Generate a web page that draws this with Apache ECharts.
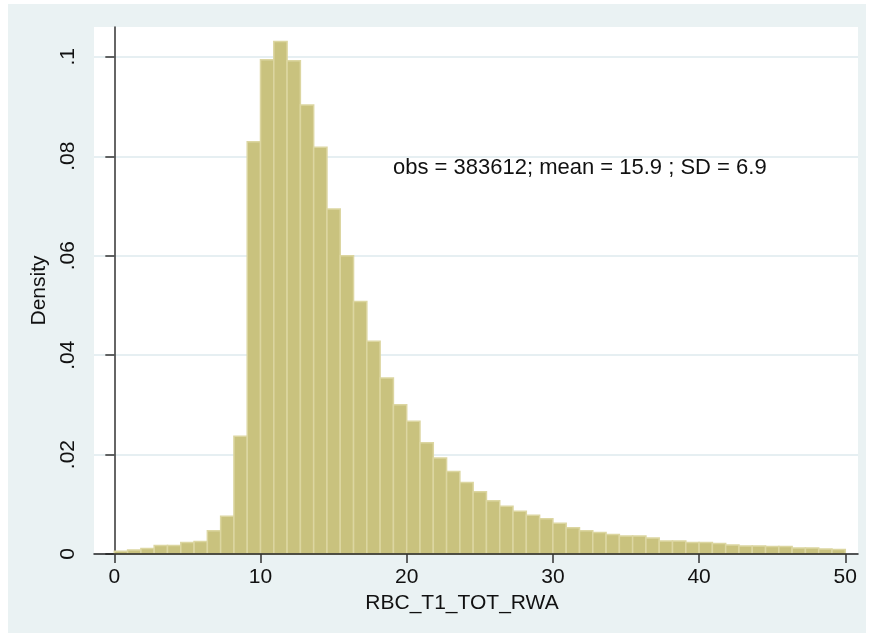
<!DOCTYPE html>
<html>
<head>
<meta charset="utf-8">
<script src="https://cdn.jsdelivr.net/npm/echarts@6/dist/echarts.min.js"></script>
<style>
  html, body { margin: 0; padding: 0; background: #ffffff; }
  #chart { width: 870px; height: 637px; }
</style>
</head>
<body>
<div id="chart"></div>
<script>
// Histogram of RBC_T1_TOT_RWA: 55 equal bins on [0, 50], density per bin
var binMin = 0;
var binMax = 50;
var densities = [
  0.00055, 0.0008, 0.0011, 0.0017, 0.0017, 0.0023, 0.0025, 0.0047, 0.0076, 0.0237,
  0.0829, 0.0994, 0.1031, 0.0992, 0.0903, 0.0818, 0.0694, 0.0600, 0.0508, 0.0428,
  0.0354, 0.0300, 0.0267, 0.0224, 0.0193, 0.0166, 0.0144, 0.0125, 0.0107, 0.0096,
  0.0086, 0.0078, 0.0071, 0.0062, 0.0053, 0.0047, 0.0043, 0.0039, 0.0036, 0.0036,
  0.0032, 0.0026, 0.0026, 0.0023, 0.0023, 0.0021, 0.0018, 0.0016, 0.0016, 0.0015,
  0.0015, 0.0012, 0.0012, 0.0010, 0.0009
];
var xTicks = [0, 10, 20, 30, 40, 50];
var yTicks = [0, 0.02, 0.04, 0.06, 0.08, 0.1];
var xTitle = 'RBC_T1_TOT_RWA';
var yTitle = 'Density';
var note = 'obs = 383612; mean = 15.9 ; SD = 6.9';

var binWidth = (binMax - binMin) / densities.length;
var barData = densities.map(function (d, i) {
  return [binMin + i * binWidth, binMin + (i + 1) * binWidth, d];
});

var FONT = '"Liberation Sans", Arial, sans-serif';

function fmtY(v) {
  if (Math.abs(v) < 1e-9) return '0';
  return String(+v.toFixed(2)).replace(/^0/, '');
}

var chart = echarts.init(document.getElementById('chart'), null, { renderer: 'canvas' });
chart.setOption({
  backgroundColor: '#ffffff',
  animation: false,
  graphic: [
    { type: 'rect', z: -10, silent: true,
      shape: { x: 8, y: 4, width: 858, height: 629 },
      style: { fill: '#EAF2F3' } },
    { type: 'rect', z: -9, silent: true,
      shape: { x: 94, y: 27, width: 764, height: 527 },
      style: { fill: '#ffffff' } },
    { type: 'text', z: 20, left: 393, top: 157,
      style: { text: note, font: '22px ' + FONT, fill: '#111111' } }
  ],
  grid: { left: 94, right: 12, top: 27, bottom: 83, containLabel: false },
  xAxis: {
    type: 'value',
    min: -1.39,
    max: 50.87,
    z: 10,
    name: xTitle,
    nameLocation: 'middle',
    nameGap: 38,
    nameTextStyle: { fontFamily: FONT, fontSize: 21, color: '#111', padding: [0, 28, 0, 0] },
    axisLine: { show: true, onZero: false, lineStyle: { color: '#222', width: 1.5 } },
    axisTick: { show: true, length: 9, customValues: xTicks, lineStyle: { color: '#333', width: 1.5 } },
    axisLabel: { customValues: xTicks, margin: 13, fontFamily: FONT, fontSize: 21, color: '#111',
      formatter: function (v) { return String(v); } },
    splitLine: { show: false }
  },
  yAxis: {
    type: 'value',
    min: 0,
    max: 0.106,
    z: 1,
    name: yTitle,
    nameLocation: 'middle',
    nameGap: 34,
    nameTextStyle: { fontFamily: FONT, fontSize: 21, color: '#111' },
    axisLine: { show: true, lineStyle: { color: '#333', width: 1.5 } },
    axisTick: { show: true, length: 9, customValues: yTicks, lineStyle: { color: '#333', width: 1.5 } },
    axisLabel: { customValues: yTicks, rotate: 90, margin: 15, fontFamily: FONT, fontSize: 21, color: '#111',
      formatter: fmtY },
    splitLine: { show: true, lineStyle: { color: '#E6EFF2', width: 2 } }
  },
  series: [{
    type: 'custom',
    data: barData,
    encode: { x: [0, 1], y: 2 },
    z: 3,
    renderItem: function (params, api) {
      var p0 = api.coord([api.value(0), api.value(2)]);
      var p1 = api.coord([api.value(1), 0]);
      return {
        type: 'rect',
        shape: { x: p0[0], y: p0[1], width: p1[0] - p0[0], height: p1[1] - p0[1] },
        style: { fill: '#C9C27E', stroke: '#DCD6A1', lineWidth: 1.5 }
      };
    }
  }]
});
</script>
</body>
</html>
